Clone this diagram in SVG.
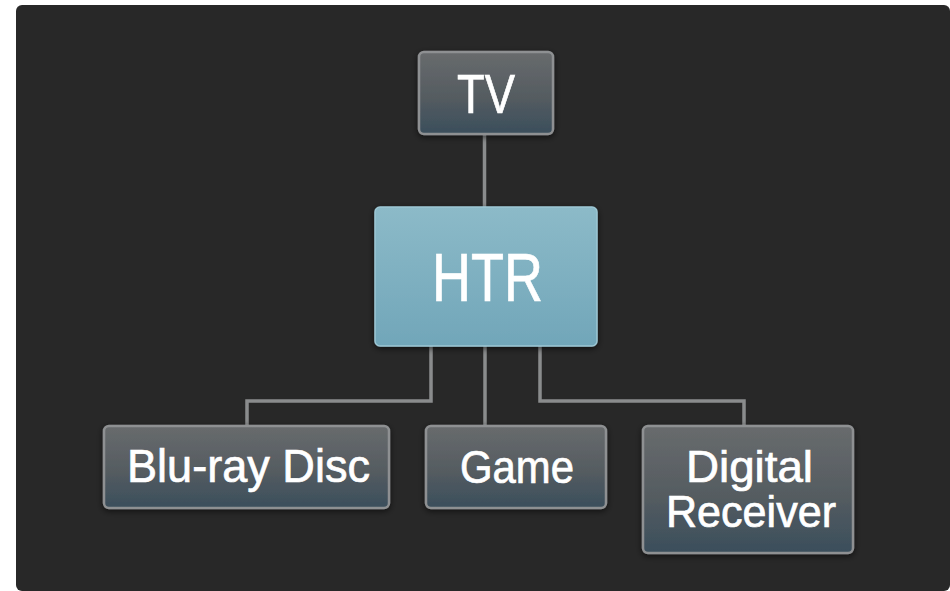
<svg xmlns="http://www.w3.org/2000/svg" width="950" height="591" viewBox="0 0 950 591">
<defs>
<linearGradient id="gBox" x1="0" y1="0" x2="0" y2="1">
<stop offset="0" stop-color="#686b6d"/>
<stop offset="0.55" stop-color="#555c61"/>
<stop offset="1" stop-color="#3a4e5b"/>
</linearGradient>
<linearGradient id="gHtr" x1="0" y1="0" x2="0" y2="1">
<stop offset="0" stop-color="#8cbac8"/>
<stop offset="1" stop-color="#71a6b9"/>
</linearGradient>
<filter id="sh" x="-10%" y="-10%" width="120%" height="130%">
<feDropShadow dx="0" dy="2" stdDeviation="3" flood-color="#000" flood-opacity="0.6"/>
</filter>
</defs>
<style>
.box{fill:url(#gBox);stroke:#8e9092;stroke-width:2.5;filter:url(#sh)}
.htr{fill:url(#gHtr);stroke:#9cc6d3;stroke-width:1.5;filter:url(#sh)}
.lbl{font-family:"Liberation Sans",Arial,sans-serif;fill:#ffffff;stroke:#ffffff;stroke-width:0.7;text-anchor:middle}
.con{fill:none;stroke:#8a8c8d;stroke-width:3.5}
</style>
<rect x="0" y="0" width="950" height="591" fill="#ffffff"/>
<rect x="16" y="5" width="934" height="586" rx="6" fill="#282828"/>
<g id="connectors">
<path class="con" d="M484.5 134 V208"/>
<path class="con" d="M431 346 V401 H247 V427"/>
<path class="con" d="M485 346 V427"/>
<path class="con" d="M540 346 V401 H744 V427"/>
</g>
<g id="tv">
<rect class="box" x="419" y="52" width="134" height="82" rx="5"/>
<text class="lbl" x="486" y="113" font-size="56" textLength="58" lengthAdjust="spacingAndGlyphs">TV</text>
</g>
<g id="htr">
<rect class="htr" x="375" y="207" width="222" height="139" rx="5"/>
<text class="lbl" x="487.5" y="301" font-size="68" textLength="111" lengthAdjust="spacingAndGlyphs">HTR</text>
</g>
<g id="bluray">
<rect class="box" x="104" y="426" width="285" height="82" rx="5"/>
<text class="lbl" x="248.5" y="482" font-size="47" textLength="243" lengthAdjust="spacingAndGlyphs">Blu-ray Disc</text>
</g>
<g id="game">
<rect class="box" x="426" y="426" width="180" height="82" rx="5"/>
<text class="lbl" x="517" y="483" font-size="47" textLength="114" lengthAdjust="spacingAndGlyphs">Game</text>
</g>
<g id="receiver">
<rect class="box" x="643" y="426" width="210" height="127" rx="5"/>
<text class="lbl" x="749.5" y="482" font-size="44" textLength="127" lengthAdjust="spacingAndGlyphs">Digital</text>
<text class="lbl" x="751" y="527" font-size="44" textLength="170" lengthAdjust="spacingAndGlyphs">Receiver</text>
</g>
</svg>
